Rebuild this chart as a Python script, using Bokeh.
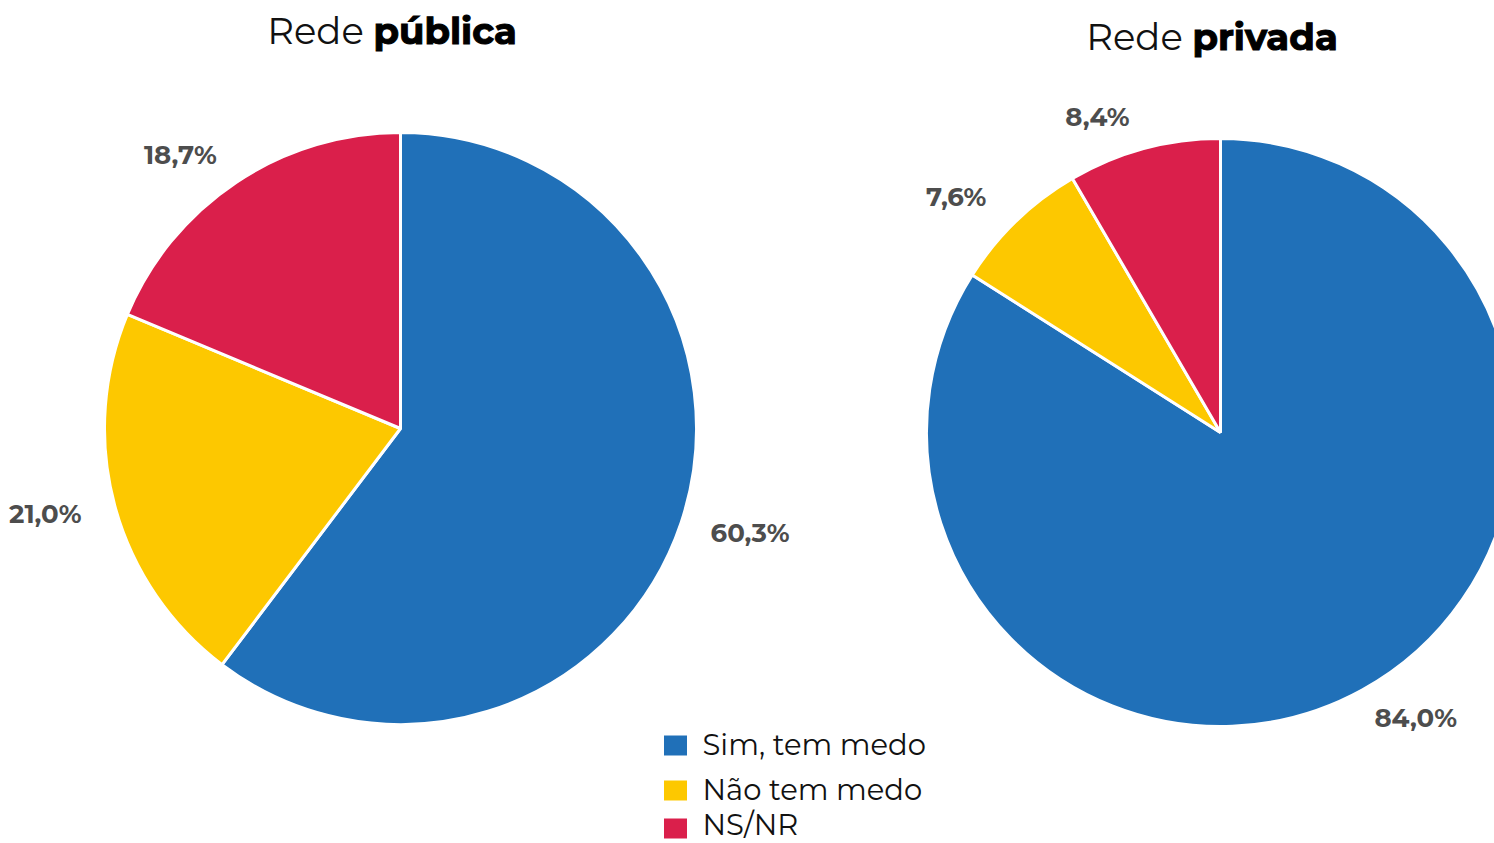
import math
from bokeh.plotting import figure
from bokeh.models import Range1d, ColumnDataSource
from bokeh.core.properties import value
from bokeh.embed import file_html
from bokeh.resources import INLINE

categories = ["Sim, tem medo", "Não tem medo", "NS/NR"]
colors = ["#2070B8", "#FDC800", "#DA1F4B"]
publica = [60.3, 21.0, 18.7]
privada = [84.0, 7.6, 8.4]
titles_light = ["Rede ", "Rede "]
titles_bold = ["pública", "privada"]

W, H = 1494, 843
p = figure(width=W, height=H, output_backend="svg", toolbar_location=None,
           x_range=Range1d(0, W), y_range=Range1d(0, H), min_border=0)
p.axis.visible = False
p.grid.visible = False
p.outline_line_color = None
p.background_fill_color = "white"
p.border_fill_color = "white"

FONT = "Montserrat, DejaVu Sans"

def fmt(v):
    return f"{v:.1f}".replace(".", ",") + "%"

pies = [
    dict(vals=publica, cx=400, cy=H - 428, r=296, split=373, ty=H - 30),
    dict(vals=privada, cx=1220, cy=H - 432, r=294, split=1192, ty=H - 36),
]

for i, pie in enumerate(pies):
    vals = pie["vals"]
    tot = sum(vals)
    starts, ends, lx, ly, labels = [], [], [], [], []
    cum = 0.0
    for v in vals:
        a0 = math.pi / 2 - 2 * math.pi * (cum + v) / tot
        a1 = math.pi / 2 - 2 * math.pi * cum / tot
        starts.append(a0)
        ends.append(a1)
        mid = (a0 + a1) / 2
        lr = pie["r"] * 1.11
        c, s = math.cos(mid), math.sin(mid)
        lx.append(pie["cx"] + lr * c + 38 * math.copysign(1, c))
        ly.append(pie["cy"] + lr * s)
        labels.append(fmt(v))
        cum += v
    src = ColumnDataSource(dict(start=starts, end=ends, color=colors, lx=lx, ly=ly, label=labels))
    p.wedge(x=pie["cx"], y=pie["cy"], radius=pie["r"], start_angle="start", end_angle="end",
            fill_color="color", line_color="white", line_width=3, source=src)
    p.text(x="lx", y="ly", text="label", source=src, text_align="center", text_baseline="middle",
           text_font=value(FONT), text_font_style="bold", text_font_size="26px", text_color="#4D4D4D")
    p.text(x=[pie["split"]], y=[pie["ty"]], text=[titles_light[i]], text_align="right",
           text_baseline="middle", text_font=value(FONT), text_font_size="37px", text_color="#111111")
    p.text(x=[pie["split"]], y=[pie["ty"]], text=[titles_bold[i]], text_align="left",
           text_baseline="middle", text_font=value(FONT), text_font_style="bold",
           text_font_size="37px", text_color="#000000", text_outline_color="#000000")

# legend
leg_y = [H - 744, H - 789, H - 824]
p.rect(x=[675] * 3, y=[H - 745, H - 790, H - 828], width=23, height=20, fill_color=colors, line_color=None)
p.text(x=[702] * 3, y=leg_y, text=categories, text_align="left", text_baseline="middle",
       text_font=value(FONT), text_font_size="29px", text_color="#111111")

open("out.html", "w").write(file_html(p, INLINE))
